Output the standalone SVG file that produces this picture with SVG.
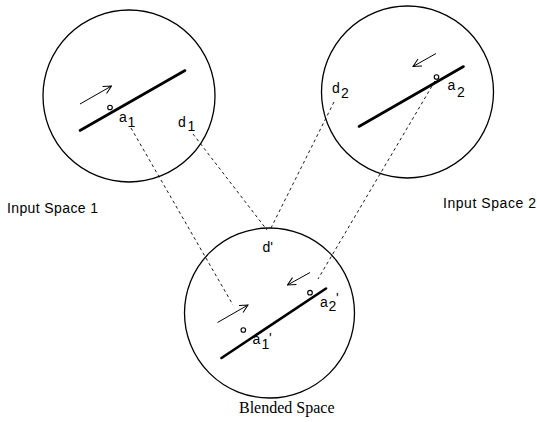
<svg xmlns="http://www.w3.org/2000/svg" width="537" height="422" viewBox="0 0 537 422">
<style>
.space{fill:none;stroke:#000;stroke-width:1.3}
.bar{stroke:#000;stroke-width:2.6;stroke-linecap:round}
.arrow{fill:none;stroke:#000;stroke-width:1}
.dot{fill:#fff;stroke:#000;stroke-width:1.1}
.dash{fill:none;stroke:#000;stroke-width:0.9;stroke-dasharray:3 3}
.lbl{font-family:"Liberation Sans",Arial,sans-serif;font-size:14px;fill:#000}
.cap{font-family:"Liberation Sans",Arial,sans-serif;font-size:14px;fill:#000}
.serif{font-family:"Liberation Serif","Times New Roman",serif;font-size:16px;fill:#000}
</style>
<defs>
<marker id="vhead" viewBox="-9 -5 10 10" markerWidth="10" markerHeight="10" refX="0" refY="0" orient="auto" markerUnits="userSpaceOnUse">
<path d="M-8,-4 L0,0 L-8,4" fill="none" stroke="#000" stroke-width="1"/>
</marker>
</defs>
<g id="connectors">
<line class="dash" x1="131" y1="128" x2="233" y2="305"/>
<line class="dash" x1="193" y1="134" x2="267" y2="230"/>
<line class="dash" x1="334" y1="102" x2="270" y2="230"/>
<line class="dash" x1="435" y1="81" x2="318" y2="279"/>
</g>
<g id="input1">
<circle class="space" cx="129" cy="96" r="86"/>
<line class="bar" x1="80" y1="130.5" x2="185" y2="70.5"/>
<line class="arrow" x1="80" y1="104" x2="111.5" y2="86" marker-end="url(#vhead)"/>
<circle class="dot" cx="110" cy="107.5" r="2.3"/>
<text class="lbl" x="119" y="122">a</text><text class="lbl" x="127.5" y="127">1</text>
<text class="lbl" x="178" y="126.5">d</text><text class="lbl" x="187.5" y="131">1</text>
<text class="cap" x="7" y="213" textLength="91">Input Space 1</text>
</g>
<g id="input2">
<circle class="space" cx="407.5" cy="92" r="86"/>
<line class="bar" x1="359" y1="126.5" x2="463.5" y2="66.5"/>
<line class="arrow" x1="436" y1="53.5" x2="413" y2="66.5" marker-end="url(#vhead)"/>
<circle class="dot" cx="436.5" cy="77" r="2.3"/>
<text class="lbl" x="447.5" y="90">a</text><text class="lbl" x="457" y="97">2</text>
<text class="lbl" x="332" y="93">d</text><text class="lbl" x="341" y="98">2</text>
<text class="cap" x="443" y="208" textLength="93">Input Space 2</text>
</g>
<g id="blended">
<circle class="space" cx="269.5" cy="313" r="85"/>
<line class="bar" x1="221.5" y1="358" x2="326" y2="288.5"/>
<line class="arrow" x1="217.5" y1="322.5" x2="248" y2="305" marker-end="url(#vhead)"/>
<line class="arrow" x1="310" y1="272.5" x2="287.5" y2="285" marker-end="url(#vhead)"/>
<circle class="dot" cx="243.3" cy="330" r="2.3"/>
<circle class="dot" cx="310" cy="292.7" r="2.3"/>
<text class="lbl" x="252.5" y="344">a</text><text class="lbl" x="261.5" y="348.5">1</text><text class="lbl" x="269" y="343">'</text>
<text class="lbl" x="320" y="307">a</text><text class="lbl" x="328.5" y="311">2</text><text class="lbl" x="336" y="303">'</text>
<text class="lbl" x="262.5" y="251.5">d'</text>
<text class="serif" x="239" y="413">Blended Space</text>
</g>
</svg>
